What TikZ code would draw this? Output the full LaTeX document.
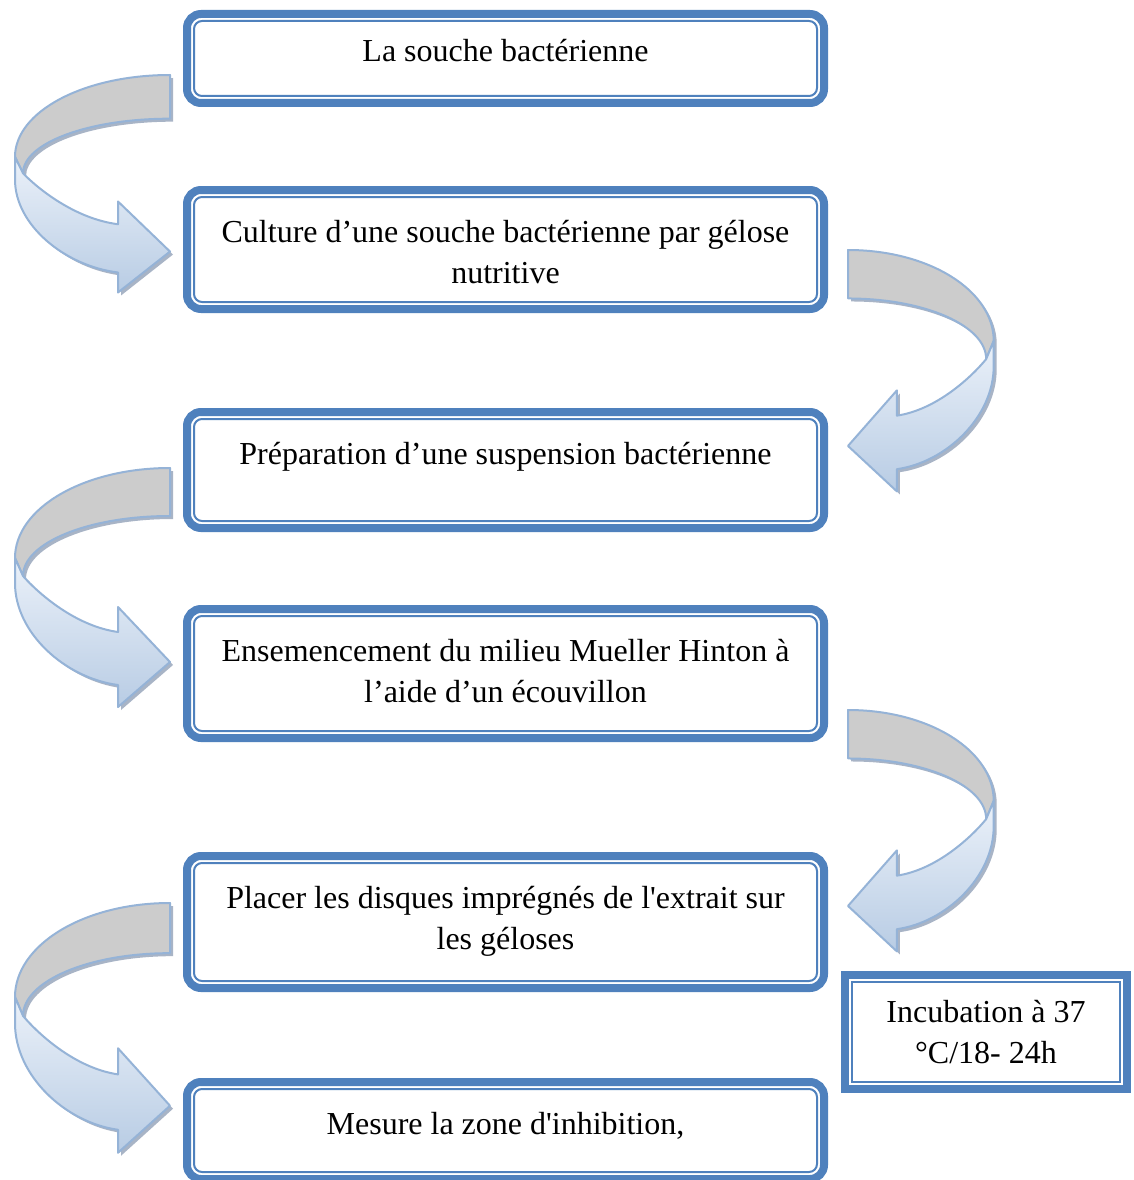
\documentclass[tikz,border=0pt]{standalone}
\usepackage{fontspec}
\setmainfont{Liberation Serif}[Ligatures=TeXOff]
\definecolor{boxblue}{HTML}{4F81BD}
\definecolor{arrline}{HTML}{95B3D7}
\definecolor{arrgray}{HTML}{CCCCCC}
\definecolor{arrtop}{HTML}{EBF1F9}
\definecolor{arrbot}{HTML}{B8CCE4}
\definecolor{arrshadow}{HTML}{8C9CB4}

% Curved ribbon arrow: #1,#2 = tail corner, #3 = horizontal scale (negative mirrors), #4 = vertical scale
\newcommand\ribbonarrow[4]{%
  \begin{scope}[shift={(#1+3,#2+3)}, xscale=#3, yscale=#4]
    \fill[arrshadow, opacity=0.75]
      (0,0) .. controls (-86,0) and (-155,40) .. (-155,90) -- (-155,115)
      .. controls (-155,165) and (-105,210) .. (-52,217) -- (-52,239) -- (0,194)
      -- (-52,139) -- (-52,164) .. controls (-95,158) and (-132,125) .. (-147,108)
      .. controls (-147,75) and (-82,48) .. (0,48) -- cycle;
  \end{scope}
  \begin{scope}[shift={(#1,#2)}, xscale=#3, yscale=#4]
    \filldraw[ribbonback]
      (0,0) .. controls (-86,0) and (-155,40) .. (-155,90) -- (-147,108)
      .. controls (-147,75) and (-82,48) .. (0,48) -- cycle;
    \filldraw[ribbonfront]
      (-155,90) -- (-155,115) .. controls (-155,165) and (-105,210) .. (-52,217)
      -- (-52,239) -- (0,194) -- (-52,139) -- (-52,164)
      .. controls (-95,158) and (-132,125) .. (-147,108) -- cycle;
  \end{scope}}

% Box text set from the top: #1 box height, #2 first baseline depth, #3 text
\newcommand\boxtext[3]{\parbox[c][#1pt][t]{637pt}{\centering\rule{0pt}{#2pt}#3}}

\begin{document}
\begin{tikzpicture}[x=1pt, y=-1pt,
  ribbonback/.style={fill=arrgray, draw=arrline, line width=2pt, line join=round},
  ribbonfront/.style={top color=arrtop, bottom color=arrbot, draw=arrline, line width=2pt, line join=round},
  stepbox/.style={draw=boxblue, line width=8pt, rounded corners=14pt, outer sep=0pt,
    inner sep=0pt, anchor=north west, font=\fontsize{32}{41}\selectfont},
  notebox/.style={draw=boxblue, line width=8pt, outer sep=0pt, inner sep=0pt,
    minimum width=282pt, minimum height=114pt, align=center, font=\fontsize{32}{41}\selectfont},
  innerline/.style={draw=boxblue, line width=2pt, rounded corners=8pt},
  innersquare/.style={draw=boxblue, line width=2pt}]

\fill[white] (0,0) rectangle (1133,1180);
\useasboundingbox (0,0) rectangle (1133,1180);

% ribbon arrows between the steps
\ribbonarrow{170}{75}{1}{0.91}
\ribbonarrow{848}{250}{-0.94}{1.01}
\ribbonarrow{170}{468}{1}{1}
\ribbonarrow{848}{710}{-0.94}{1.01}
\ribbonarrow{170}{903}{1}{1.045}

% steps
\node[stepbox] (b1) at (187,14)   {\boxtext{89}{48}{La souche bactérienne}};
\node[stepbox] (b2) at (187,190)  {\boxtext{119}{52}{Culture d’une souche bactérienne par gélose\\nutritive}};
\node[stepbox] (b3) at (187,412)  {\boxtext{116}{52}{Préparation d’une suspension bactérienne}};
\node[stepbox] (b4) at (187,609)  {\boxtext{129}{52}{Ensemencement du milieu Mueller Hinton à\\l’aide d’un écouvillon}};
\node[stepbox] (b5) at (187,856)  {\boxtext{132}{52}{Placer les disques imprégnés de l'extrait sur\\les géloses}};
\node[stepbox] (b6) at (187,1082) {\boxtext{97}{52}{Mesure la zone d'inhibition,}};

\foreach \b in {b1,b2,b3,b4,b5,b6}
  \draw[innerline] ([shift={(7,7)}]\b.north west) rectangle ([shift={(-7,-7)}]\b.south east);

% incubation note
\node[notebox] (inc) at (986,1032) {Incubation à 37\\°C/18- 24h};
\draw[innersquare] ([shift={(7,7)}]inc.north west) rectangle ([shift={(-7,-7)}]inc.south east);

\end{tikzpicture}
\end{document}
